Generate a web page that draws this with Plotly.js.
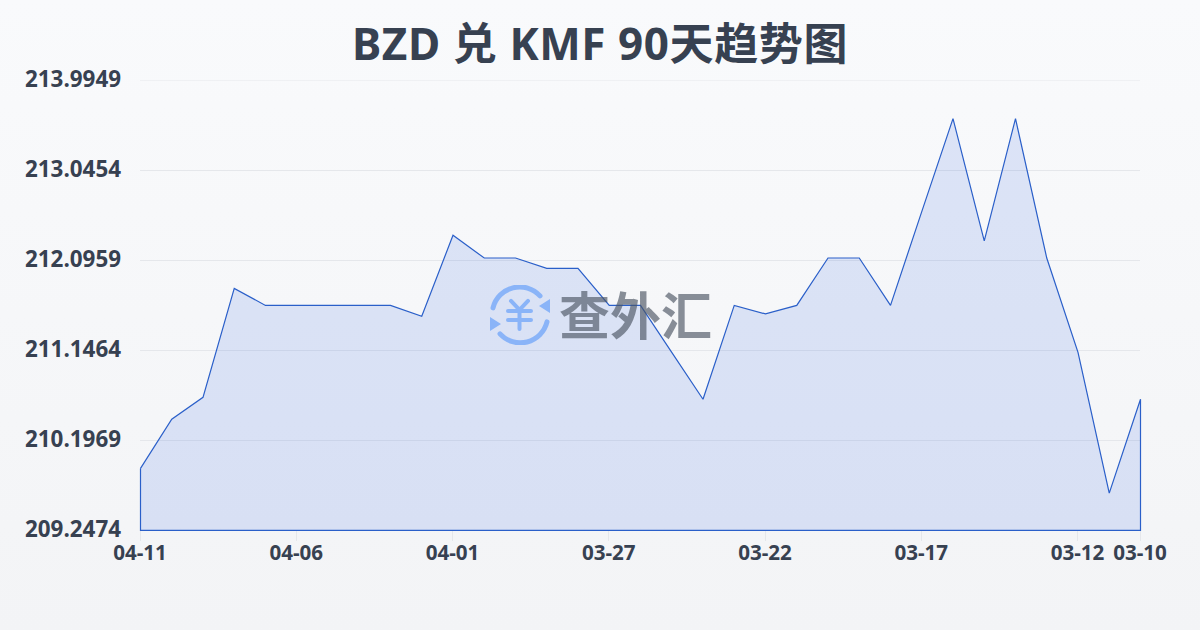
<!DOCTYPE html>
<html><head><meta charset="utf-8">
<script src="https://cdn.plot.ly/plotly-3.0.1.min.js"></script>
<style>html,body{margin:0;padding:0;width:1200px;height:630px;overflow:hidden;background:linear-gradient(180deg,#f9fafc 0%,#f3f4f6 100%);}#c{width:1200px;height:630px;}
.ytick{transform:translateY(-1px);}
.scatterlayer{transform:translate(.5px,.3px);}
.cartesianlayer *{clip-path:none !important;}
.gtitle{letter-spacing:.6px;}</style>
</head><body><div id="c"></div>
<script>
const titleText = 'BZD 兑 KMF 90天趋势图';
const dates = ['04-11','04-10','04-09','04-08','04-07','04-06','04-05','04-04','04-03','04-02','04-01','03-31','03-30','03-29','03-28','03-27','03-26','03-25','03-24','03-23','03-22','03-21','03-20','03-19','03-18','03-17','03-16','03-15','03-14','03-13','03-12','03-11','03-10'];
const rates = [209.90,210.42,210.65,211.80,211.62,211.62,211.62,211.62,211.62,211.505,212.36,212.12,212.12,212.01,212.01,211.62,211.62,211.125,210.63,211.62,211.53,211.62,212.12,212.12,211.62,212.61,213.59,212.30,213.59,212.12,211.125,209.64,210.63];
const xTicks = ['04-11','04-06','04-01','03-27','03-22','03-17','03-12','03-10'];
const yTicks = [209.2474,210.1969,211.1464,212.0959,213.0454,213.9949];
const yTickLabels = ['209.2474','210.1969','211.1464','212.0959','213.0454','213.9949'];
const watermark = '查外汇';
const first = dates[0], last = dates[dates.length-1], base = yTicks[0];
const logo = 'data:image/svg+xml;utf8,' + encodeURIComponent('<svg xmlns="http://www.w3.org/2000/svg" viewBox="0 0 60 60"><g fill="none" stroke="#8ab4f8" stroke-linecap="round"><path stroke-width="5" d="M3 23A27.5 27.5 0 0 1 50 11"/><path stroke-width="5" d="M57 37A27.5 27.5 0 0 1 10 49"/><path stroke-width="4" d="M21 16L29.5 25L38 16M18 26H41M18 35H41M29.5 25V44"/></g><path d="M60 14V28L49 21Z M0 32V46L11 39Z" fill="#8ab4f8"/></svg>');
Plotly.newPlot('c',[{
  type:'scatter',mode:'lines',
  x:dates.concat([last,first,first]),
  y:rates.concat([base,base,rates[0]]),
  fill:'toself',fillcolor:'rgba(37,90,225,0.135)',
  line:{color:'#2a5fc9',width:1.2,shape:'linear'},
  cliponaxis:false,hoverinfo:'skip'
}],{
  width:1200,height:630,showlegend:false,
  paper_bgcolor:'rgba(0,0,0,0)',plot_bgcolor:'rgba(0,0,0,0)',
  margin:{l:140,r:60,t:80,b:100},
  title:{text:titleText,x:0.5,xanchor:'center',y:0.929,yanchor:'middle',font:{family:'"Noto Sans","Noto Sans CJK SC",sans-serif',size:44,weight:700,color:'#374151'}},
  font:{family:'"Open Sans","Noto Sans",sans-serif',color:'#374151'},
  xaxis:{type:'category',categoryorder:'array',categoryarray:dates,range:[0,dates.length-1],tickmode:'array',tickvals:xTicks,ticktext:xTicks,
    showgrid:false,zeroline:false,showline:false,ticks:'outside',ticklen:10,tickwidth:1,tickcolor:'#e5e7eb',ticklabelstandoff:-6,
    tickfont:{size:20.6,weight:700,color:'#374151'},tickangle:0},
  yaxis:{range:[yTicks[0],yTicks[5]],tickmode:'array',tickvals:yTicks,ticktext:yTickLabels,
    showgrid:true,gridcolor:'#e5e7eb',gridwidth:1,zeroline:false,showline:false,ticks:'',ticklabelstandoff:18,
    tickfont:{size:22.4,weight:700,color:'#374151'}},
  shapes:[{type:'line',xref:'paper',yref:'y',x0:0,x1:1,y0:yTicks[5],y1:yTicks[5],line:{color:'#e5e7eb',width:1},layer:'below'}],
  annotations:[{xref:'paper',yref:'paper',x:0.5,y:0.478,text:watermark,showarrow:false,xanchor:'left',yanchor:'middle',xshift:-83,yshift:2,
    font:{family:'"Noto Sans CJK SC",sans-serif',size:51,weight:700,color:'rgba(75,85,99,0.65)'}}],
  images:[{source:logo,xref:'paper',yref:'paper',x:0.35,y:0.478,sizex:0.06,sizey:0.1333,xanchor:'left',yanchor:'middle',layer:'above',sizing:'contain'}]
},{displayModeBar:false,staticPlot:true});
</script></body></html>
